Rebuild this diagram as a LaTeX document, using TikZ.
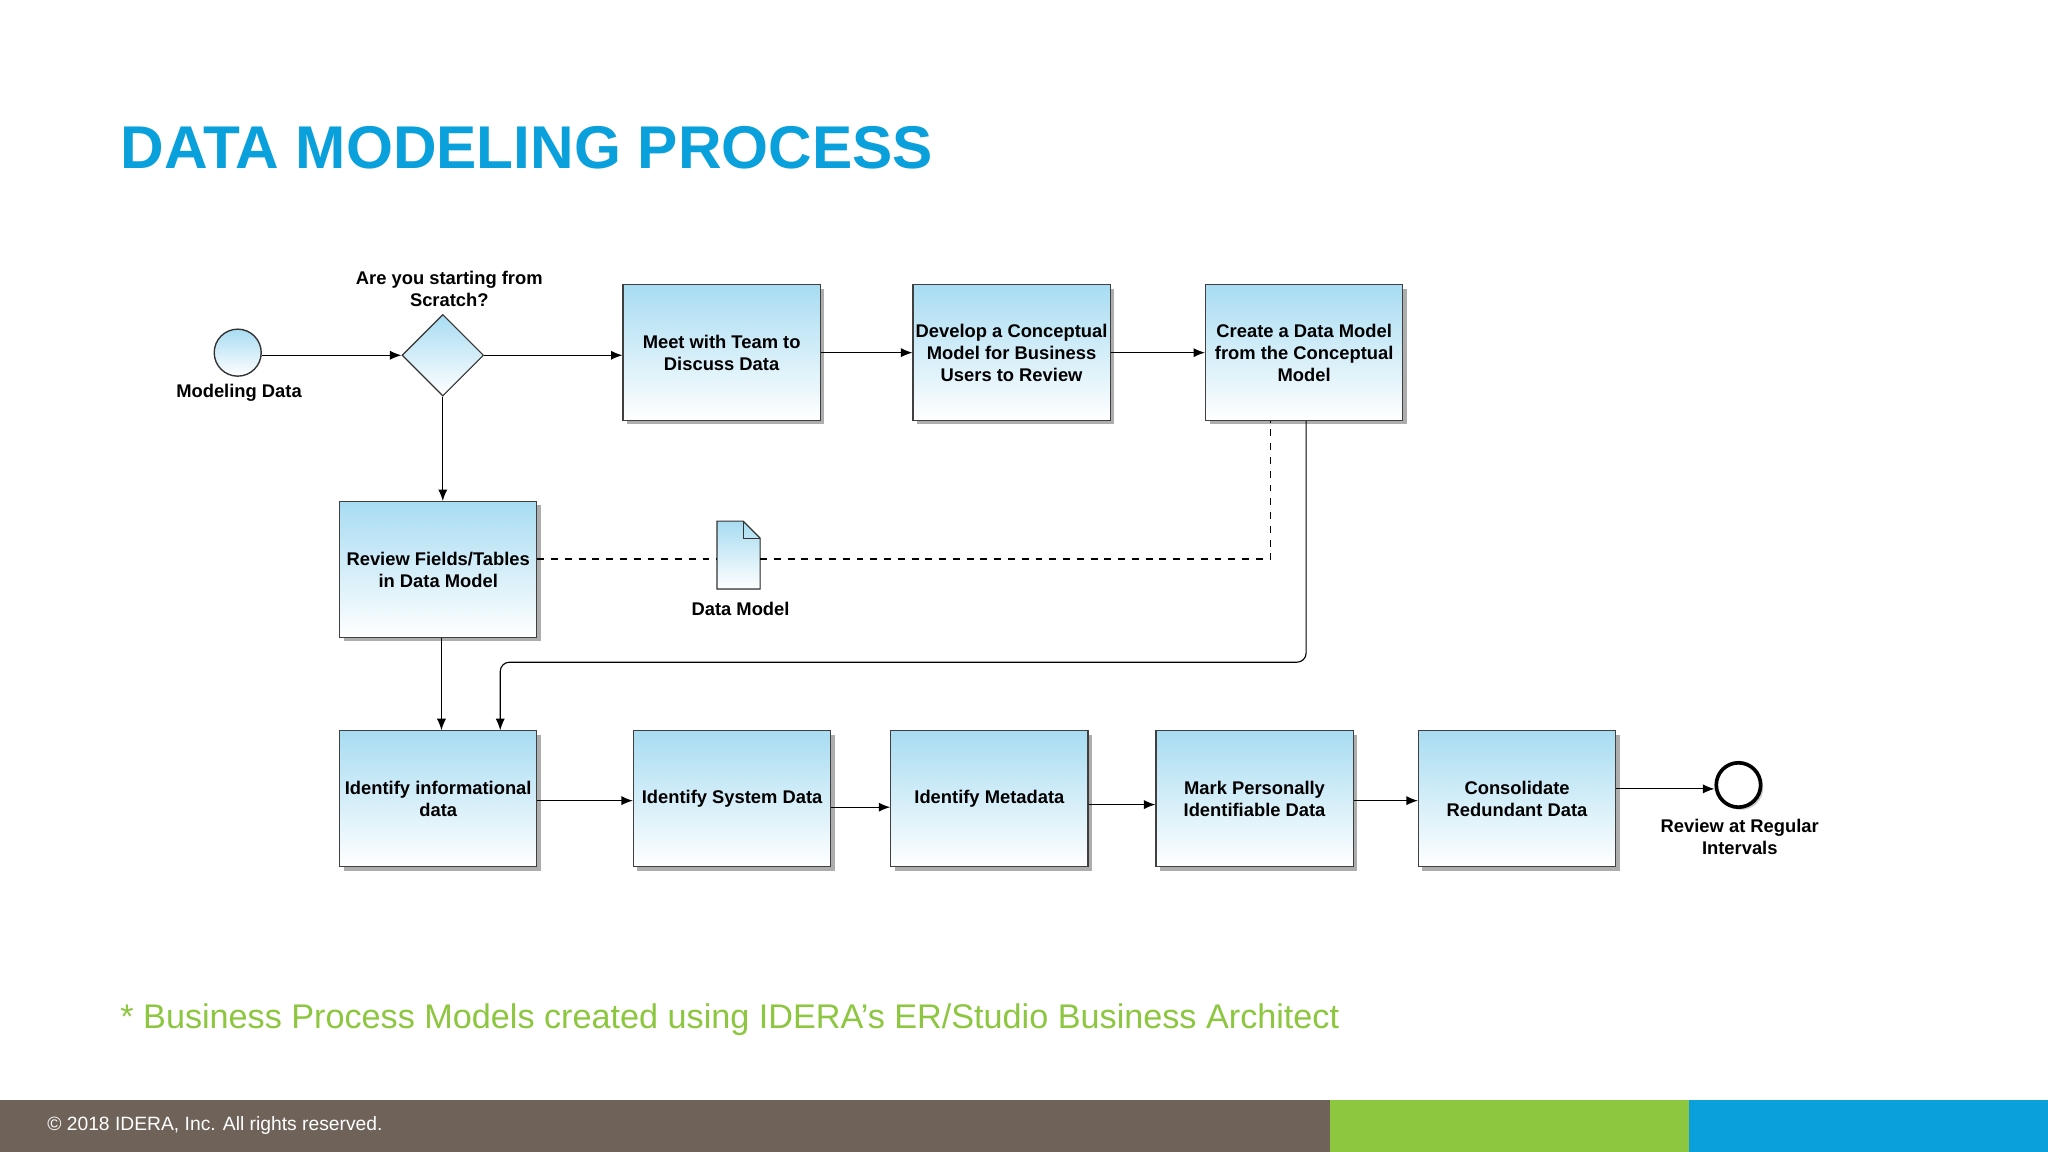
\documentclass[tikz,border=0pt]{standalone}
\usepackage{fontspec}
\setmainfont{Liberation Sans}
\usetikzlibrary{shapes.geometric,arrows.meta,shadows}
\definecolor{tblue}{HTML}{0AA0DC}
\definecolor{tgreen}{HTML}{8DC63F}
\definecolor{tbrown}{HTML}{6E6259}
\definecolor{boxtop}{HTML}{A8DCF2}
\begin{document}
\begin{tikzpicture}[x=0.02cm,y=-0.02cm,
  box/.style={draw=black!75,line width=0.5pt,minimum width=3.02cm,minimum height=2.08cm,inner sep=1pt,
    top color=boxtop,bottom color=white,align=center,
    font=\fontsize{8}{9.6}\selectfont\bfseries,
    drop shadow={shadow xshift=0.06cm,shadow yshift=-0.06cm,fill=black!40,opacity=0.8}},
  arr/.style={-{Latex[length=5pt,width=4pt]},line width=0.5pt},
  lbl/.style={font=\fontsize{8}{9.6}\selectfont\bfseries,align=center}]
\useasboundingbox (0,0) rectangle (1568,882);
\fill[white] (0,0) rectangle (1568,882);
\node[anchor=west,text=tblue,font=\fontsize{26.3}{32}\selectfont\bfseries] at (86,113) {DATA MODELING PROCESS};
% boxes
\node[box] (meet) at (552.5,270) {Meet with Team to\\Discuss Data};
\node[box] (dev) at (774.5,270) {Develop a Conceptual\\Model for Business\\Users to Review};
\node[box] (cre) at (998.5,270) {Create a Data Model\\from the Conceptual\\Model};
\node[box] (rev) at (335.5,436) {Review Fields/Tables\\in Data Model};
\node[box] (inf) at (335.5,611.5) {Identify informational\\data};
\node[box] (sys) at (560.5,611.5) {Identify System Data};
\node[box] (meta) at (757.5,611.5) {Identify Metadata};
\node[box] (mark) at (960.5,611.5) {Mark Personally\\Identifiable Data};
\node[box] (con) at (1161.5,611.5) {Consolidate\\Redundant Data};
% events
\node[circle,draw=black!80,line width=0.6pt,minimum size=0.72cm,inner sep=0,top color=boxtop,bottom color=white] (st) at (182,270) {};
\node[lbl] at (183,301) {Modeling Data};
\node[diamond,draw=black!80,line width=0.5pt,minimum size=1.25cm,inner sep=0,top color=boxtop,bottom color=white] (dia) at (339,272) {};
\node[lbl] at (344,221) {Are you starting from\\Scratch?};
\node[circle,draw=black,line width=1.6pt,minimum size=0.68cm,inner sep=0,fill=white,
  drop shadow={shadow xshift=0.04cm,shadow yshift=-0.04cm,fill=black!40}] (en) at (1331,601) {};
\node[lbl] at (1332,641) {Review at Regular\\Intervals};
% document
\filldraw[draw=black!80,line width=0.5pt,top color=boxtop,bottom color=white] (549,399) -- (569,399) -- (582,412) -- (582,451) -- (549,451) -- cycle;
\draw[black!80,line width=0.5pt] (569,399) -- (569,412) -- (582,412);
\node[lbl] at (567,466) {Data Model};
% arrows
\draw[arr] (st.east |- dia.west) -- (dia.west);
\draw[arr] (dia.east) -- (meet.west |- dia.east);
\draw[arr] (meet) -- (dev);
\draw[arr] (dev) -- (cre);
\draw[arr] (dia.south) -- (rev.north -| dia.south);
\draw[arr] (rev.south -| 338,0) -- (inf.north -| 338,0);
\draw[arr,rounded corners=4pt] (cre.south -| 1000,0) -- (1000,507) -- (383,507) -- (inf.north -| 383,0);
\draw[dashed,line width=0.5pt] (rev.east |- 0,428) -- (549,428);
\draw[dashed,line width=0.5pt] (582,428) -- (973,428) -- (cre.south -| 973,0);
\draw[arr] (inf.east |- 0,613) -- (sys.west |- 0,613);
\draw[arr] (sys.east |- 0,618) -- (meta.west |- 0,618);
\draw[arr] (meta.east |- 0,616) -- (mark.west |- 0,616);
\draw[arr] (mark.east |- 0,613) -- (con.west |- 0,613);
\draw[arr] (con.east |- 0,604) -- (en.west |- 0,604);
% footnote
\node[anchor=west,text=tgreen,font=\fontsize{14.9}{18}\selectfont] at (86,781) {* Business Process Models created using IDERA’s ER/Studio Business Architect};
\fill[tbrown] (0,842) rectangle (1018,882);
\fill[tgreen] (1018,842) rectangle (1293,882);
\fill[tblue] (1293,842) rectangle (1568,882);
\node[anchor=west,text=white,font=\fontsize{8.4}{10}\selectfont] at (30,862) {© 2018 IDERA, Inc. All rights reserved.};
\end{tikzpicture}
\end{document}
